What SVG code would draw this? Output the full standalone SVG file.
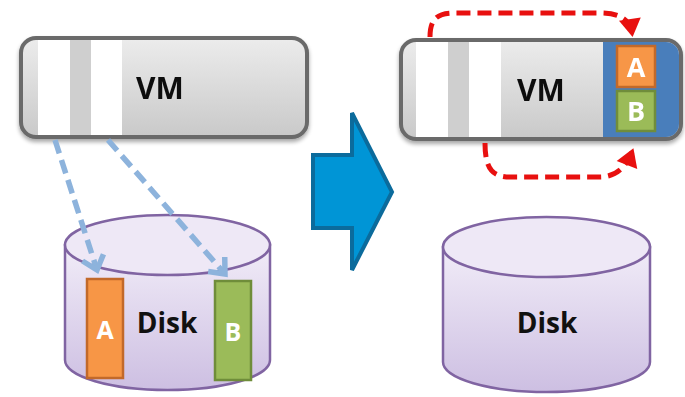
<svg xmlns="http://www.w3.org/2000/svg" width="685" height="397" viewBox="0 0 685 397">
<defs>
<style>
.vm{stroke:#6b6b6b;stroke-width:4;fill:url(#gv)}
.strip{fill:#ffffff}
.gstrip{fill:#cfcfcf}
.lbl{font-family:"Open Sans",Lato,sans-serif;font-weight:700;fill:#111;text-anchor:middle}
.wl{font-family:"Open Sans",Lato,sans-serif;font-weight:700;fill:#fff;text-anchor:middle}
.cyl{fill:url(#gd);stroke:#8064a2;stroke-width:2.5}
.top{fill:#eee8f6;stroke:#8064a2;stroke-width:2.5}
.bd{fill:none;stroke:#8db3dc;stroke-width:5.5;stroke-dasharray:14 7}
.rd{fill:none;stroke:#e8100f;stroke-width:5;stroke-dasharray:14 7}
.oa{fill:#f79646;stroke:#c2692a;stroke-width:2.5}
.gb{fill:#9bbb59;stroke:#6f8d3a;stroke-width:2.5}
</style>
<linearGradient id="gv" x1="0" y1="0" x2="0" y2="1">
<stop offset="0" stop-color="#ececec"/>
<stop offset="1" stop-color="#c9c9c9"/>
</linearGradient>
<linearGradient id="gd" x1="0" y1="0" x2="0" y2="1">
<stop offset="0" stop-color="#f1ecf8"/>
<stop offset="1" stop-color="#cdbfe2"/>
</linearGradient>
<filter id="sh" x="-10%" y="-10%" width="120%" height="130%">
<feGaussianBlur in="SourceAlpha" stdDeviation="2"/>
<feOffset dx="0" dy="3" result="b"/>
<feComponentTransfer><feFuncA type="linear" slope="0.35"/></feComponentTransfer>
<feMerge><feMergeNode/><feMergeNode in="SourceGraphic"/></feMerge>
</filter>
<marker id="mb" markerUnits="userSpaceOnUse" markerWidth="30" markerHeight="30" refX="0" refY="0" viewBox="-15 -15 30 30" orient="auto">
<polyline points="-13,-11 0,0 -13,11" fill="none" stroke="#8db3dc" stroke-width="5.5"/>
</marker>
<marker id="mr" markerUnits="userSpaceOnUse" markerWidth="40" markerHeight="40" refX="0" refY="0" viewBox="-20 -20 40 40" orient="auto">
<polygon points="-14,-11 4,0 -14,11" fill="#e8100f"/>
</marker>
</defs>

<g id="vm-left" filter="url(#sh)">
<rect class="vm" x="21" y="38" width="286" height="99" rx="15"/>
<rect class="strip" x="38" y="40" width="32" height="95"/>
<rect class="gstrip" x="70" y="40" width="21" height="95"/>
<rect class="strip" x="91" y="40" width="31" height="95"/>
<text class="lbl" x="160" y="99" font-size="30">VM</text>
</g>

<g id="vm-right" filter="url(#sh)">
<rect class="vm" x="401" y="40" width="280" height="99" rx="15"/>
<path d="M603,42 H666 A13,13 0 0 1 679,55 V124 A13,13 0 0 1 666,137 H603 Z" fill="#4a7ebb"/>
<rect class="strip" x="416" y="42" width="32" height="95"/>
<rect class="gstrip" x="448" y="42" width="21" height="95"/>
<rect class="strip" x="469" y="42" width="32" height="95"/>
<text class="lbl" x="541" y="101" font-size="30">VM</text>
<g id="vm-a">
<rect class="oa" x="617" y="46" width="38" height="41"/>
<text class="wl" x="636" y="77" font-size="27">A</text>
</g>
<g id="vm-b">
<rect class="gb" x="617" y="91" width="38" height="40"/>
<text class="wl" x="636" y="121" font-size="27">B</text>
</g>
</g>

<g id="transition-arrow">
<polygon points="313,155 352,155 352,113 392,192 352,270 352,228 313,228" fill="#0095d6" stroke="#0b6b9c" stroke-width="4" stroke-linejoin="miter"/>
</g>

<g id="disk-left">
<path class="cyl" d="M65,245 V360 A102.5,30 0 0 0 270,360 V245 Z"/>
<ellipse class="top" cx="167.5" cy="245" rx="102.5" ry="30"/>
<text class="lbl" x="167" y="333" font-size="28">Disk</text>
<g id="disk-a">
<rect class="oa" x="87" y="279" width="36" height="99"/>
<text class="wl" x="105" y="339" font-size="25">A</text>
</g>
<g id="disk-b">
<rect class="gb" x="215" y="281" width="36" height="99"/>
<text class="wl" x="233" y="341" font-size="25">B</text>
</g>
</g>

<g id="disk-right">
<path class="cyl" d="M443,247 V362 A103.5,30 0 0 0 650,362 V247 Z"/>
<ellipse class="top" cx="546.5" cy="247" rx="103.5" ry="30"/>
<text class="lbl" x="547" y="333" font-size="28">Disk</text>
</g>

<g id="connectors">
<path class="rd" d="M430,37 C430,18 438,13 455,13 L600,13 C620,13 630,20 632,33" marker-end="url(#mr)"/>
<path class="rd" d="M485,143 C485,168 492,177 510,177 L600,177 C617,177 627,165 632,152" marker-end="url(#mr)"/>
<path class="bd" d="M55,140 L97,270" marker-end="url(#mb)"/>
<path class="bd" d="M108,140 L225,274" marker-end="url(#mb)"/>
</g>
</svg>
